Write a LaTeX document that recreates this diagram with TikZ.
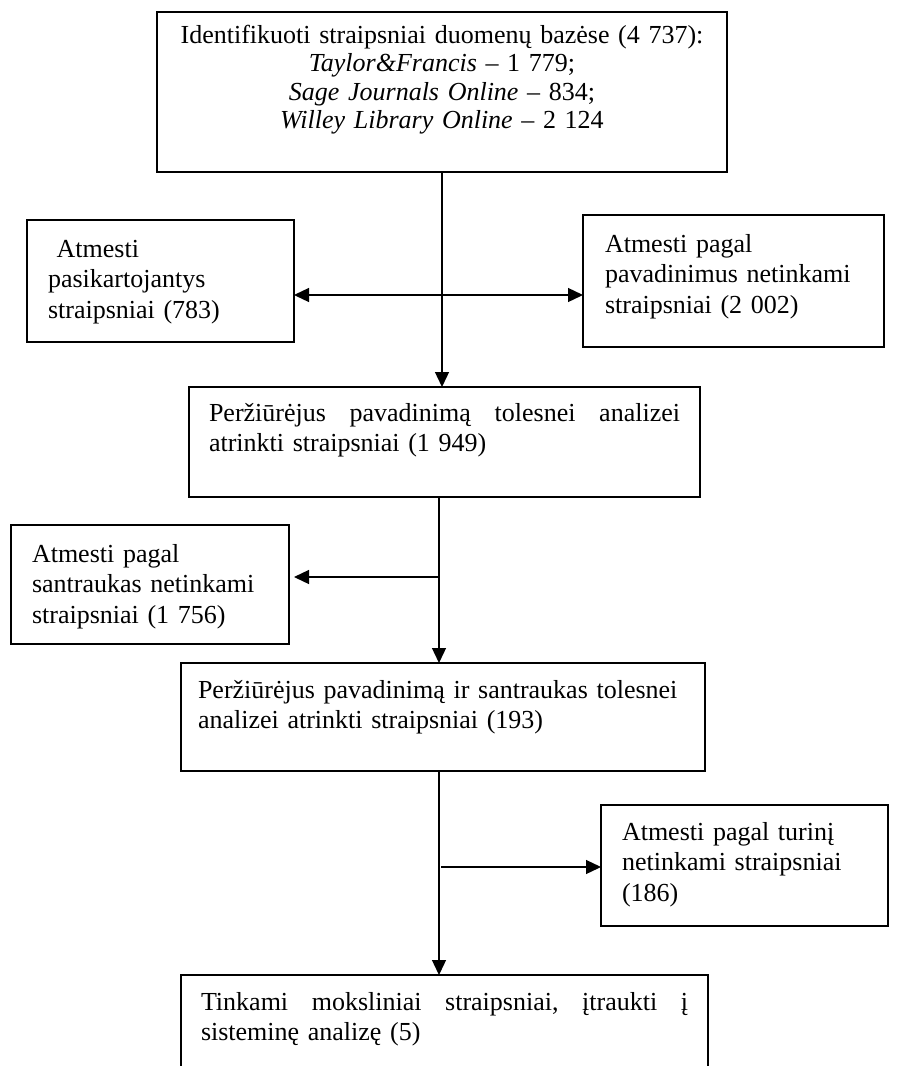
\documentclass[tikz,border=0pt]{standalone}
\usepackage{fontspec}
\setmainfont{Liberation Serif}
\usetikzlibrary{arrows.meta, positioning, calc}

\begin{document}
\begin{tikzpicture}[x=1pt, y=-1pt,
	box/.style={draw, line width=1.8pt, anchor=north west, inner xsep=20pt, inner ysep=0pt, outer sep=0pt, align=left, font=\fontsize{26}{30.5}\selectfont},
	conn/.style={line width=1.3pt},
	arr/.style={conn, -{Triangle[length=15pt, width=14pt]}}]
	\useasboundingbox (0,0) rectangle (902,1066);
	\clip (0,0) rectangle (902,1066);

	\node[box, align=center, inner xsep=14pt, text width=542pt, text height=31pt, text depth=129pt, font=\fontsize{26}{28.5}\selectfont] (ident) at (157,12) {Identifikuoti straipsniai duomenų bazėse (4~737):\\ \textit{Taylor\&Francis} – 1~779;\\ \textit{Sage Journals Online} – 834;\\ \textit{Willey Library Online} – 2~124};
	\node[box, inner xsep=21pt, text width=225pt, text height=37pt, text depth=85pt] (dup) at (27,220) {\ Atmesti\\ pasikartojantys\\ straipsniai (783)};
	\node[box, inner xsep=22pt, text width=257pt, text height=37pt, text depth=95pt] (title) at (583,215) {Atmesti pagal\\ pavadinimus netinkami\\ straipsniai (2~002)};
	\node[box, text width=471pt, text height=34pt, text depth=76pt] (sel1) at (189,387) {\makebox[\hsize][s]{Peržiūrėjus\hfill pavadinimą\hfill tolesnei\hfill analizei}\\ atrinkti straipsniai (1~949)};
	\node[box, inner xsep=21pt, text width=236pt, text height=37pt, text depth=82pt] (abstr) at (11,525) {Atmesti pagal\\ santraukas netinkami\\ straipsniai (1~756)};
	\node[box, inner xsep=17pt, text width=490pt, text height=35pt, text depth=73pt] (sel2) at (181,663) {Peržiūrėjus pavadinimą ir santraukas tolesnei\\ analizei atrinkti straipsniai (193)};
	\node[box, inner xsep=21pt, text width=245pt, text height=35pt, text depth=86pt] (content) at (601,805) {Atmesti pagal turinį\\ netinkami straipsniai\\ (186)};
	\node[box, text width=487pt, text height=35pt, text depth=165pt] (final) at (181,975) {\makebox[\hsize][s]{Tinkami\hfill moksliniai\hfill straipsniai,\hfill įtraukti\hfill į}\\ sisteminę analizę (5)};

	% connectors
	\coordinate (c1) at (442,295);
	\coordinate (c2) at (439,577);
	\coordinate (c3) at (441,867);
	\draw[arr] (ident.south) -- (ident.south |- sel1.north);
	\draw[conn, {Triangle[length=15pt, width=14pt]}-{Triangle[length=15pt, width=14pt]}] (dup.east |- c1) -- (title.west |- c1);
	\draw[arr] (sel1.south -| c2) -- (sel2.north -| c2);
	\draw[arr, shorten >=5pt] (c2) -- (abstr.east |- c2);
	\draw[arr] (sel2.south -| c2) -- (final.north -| c2);
	\draw[arr] (c3) -- (content.west |- c3);
\end{tikzpicture}
\end{document}
